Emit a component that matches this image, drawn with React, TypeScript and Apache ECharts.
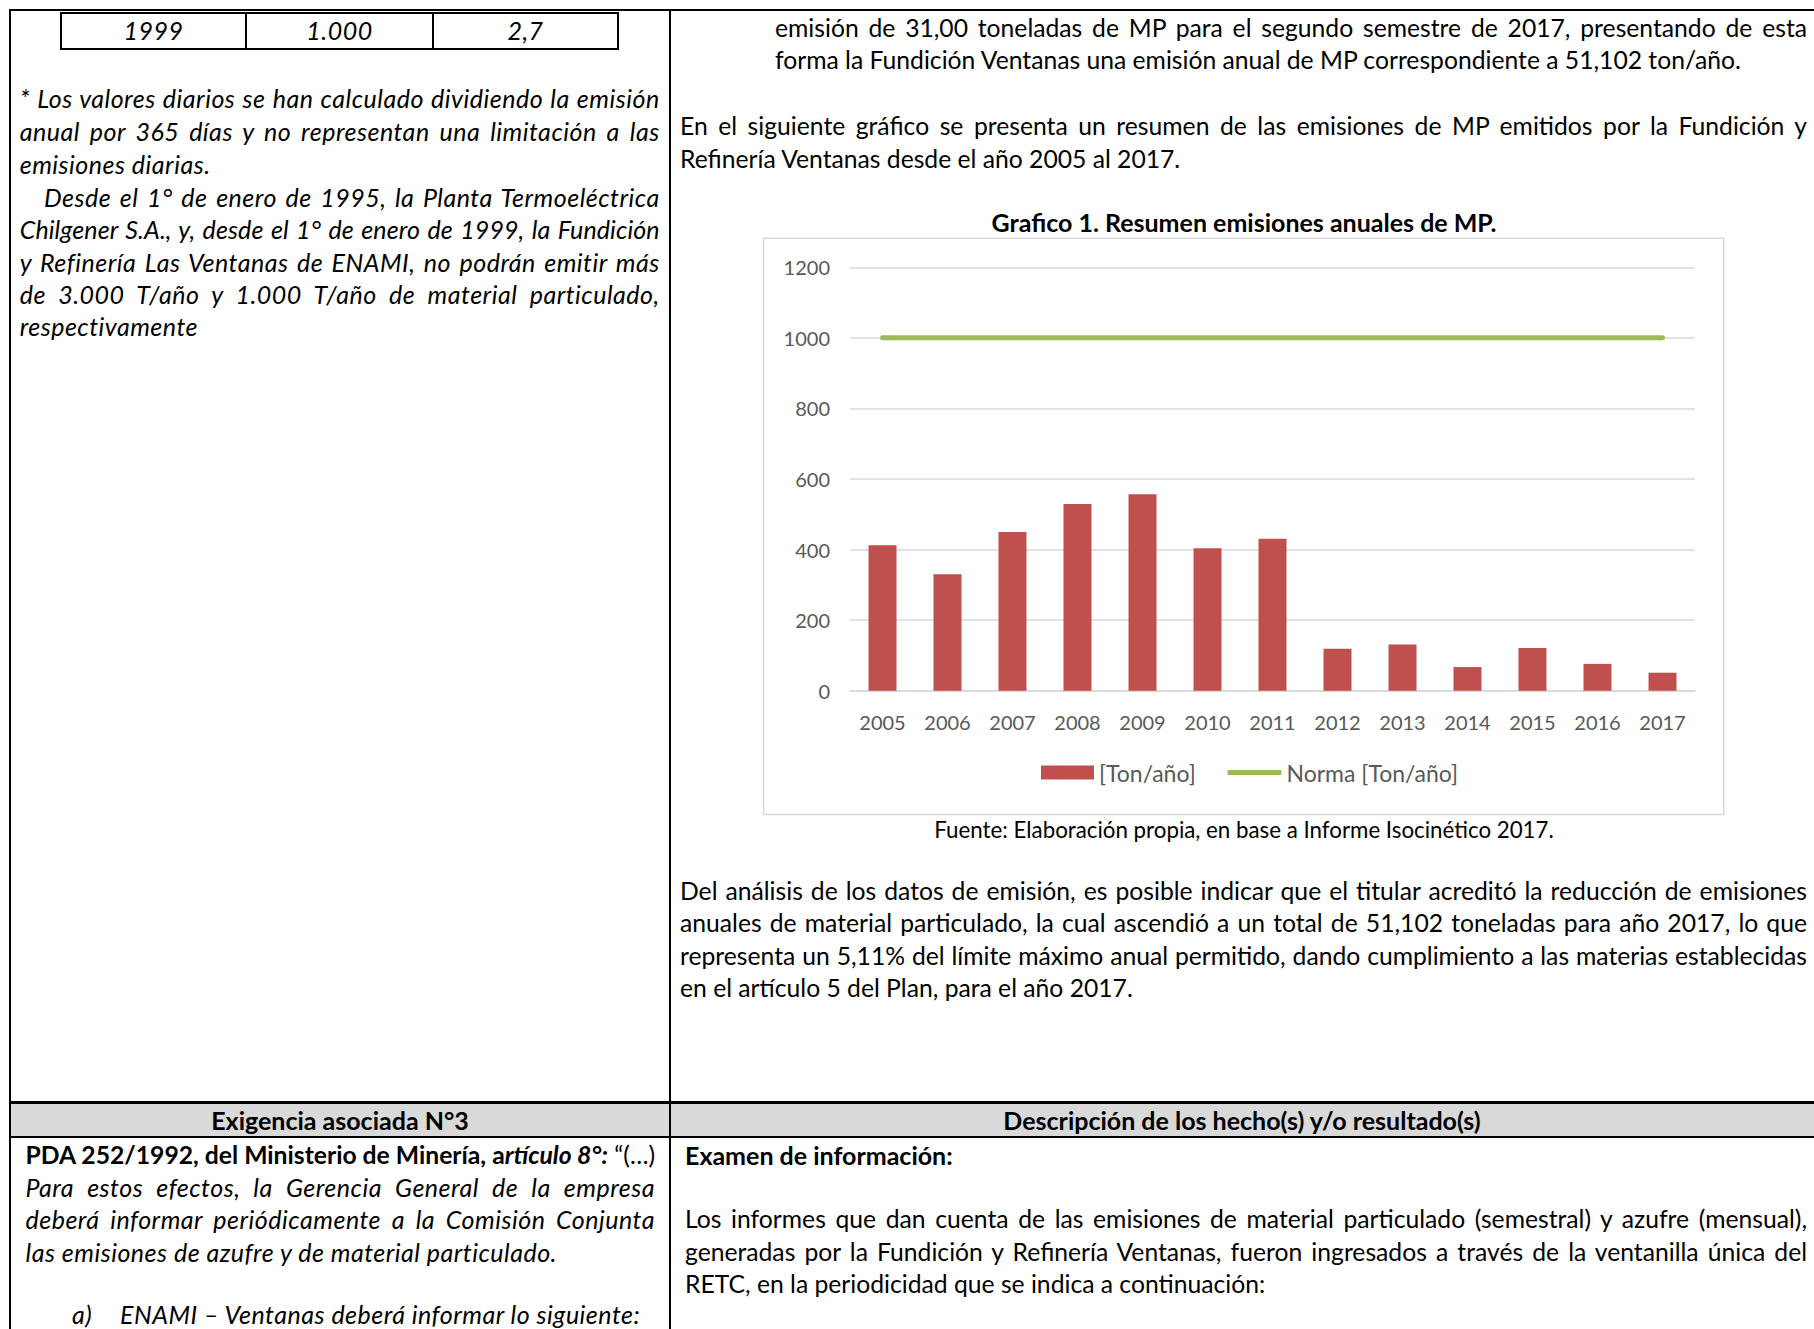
import React, { useEffect, useRef } from "react";
import * as echarts from "echarts";

// ---- chart data ----
const years = ["2005", "2006", "2007", "2008", "2009", "2010", "2011", "2012", "2013", "2014", "2015", "2016", "2017"];
const emissions = [412, 330, 450, 529, 557, 404, 431, 119, 131, 67, 121, 76, 51];
const normaValues = [1000, 1000, 1000, 1000, 1000, 1000, 1000, 1000, 1000, 1000, 1000, 1000, 1000];
const yMin = 0;
const yMax = 1200;
const yStep = 200;
const seriesNames = ["[Ton/año]", "Norma [Ton/año]"];
const chartTitle = "Grafico 1. Resumen emisiones anuales de MP.";
const chartSource = "Fuente: Elaboración propia, en base a Informe Isocinético 2017.";

const FONT = "Lato, 'Noto Sans', sans-serif";

type LineProps = {
  x: number;
  y: number;
  w?: number;
  justify?: boolean;
  italic?: boolean;
  bold?: boolean;
  center?: boolean;
  ls?: number;
  lh?: number;
  children: React.ReactNode;
};

function Line({ x, y, w, justify, italic, bold, center, ls, lh = 32, children }: LineProps) {
  const fontSize = italic ? 25 : bold ? 25 : 24.7;
  const style: React.CSSProperties = {
    position: "absolute",
    left: x,
    top: y - lh / 2,
    height: lh,
    lineHeight: lh + "px",
    fontSize,
    letterSpacing: ls !== undefined ? ls : italic ? 0.5 : 0,
    fontFamily: FONT,
    color: "#000",
    fontStyle: italic ? "italic" : "normal",
    fontWeight: bold ? 700 : 400,
    whiteSpace: "nowrap",
  };
  if (w !== undefined) style.width = w;
  if (justify) {
    style.textAlign = "justify";
    (style as any).textAlignLast = "justify";
  }
  if (center) style.textAlign = "center";
  return <div style={style}>{children}</div>;
}

function HLine({ x, y, w, t = 2 }: { x: number; y: number; w: number; t?: number }) {
  return <div style={{ position: "absolute", left: x, top: y - t / 2, width: w, height: t, background: "#000" }} />;
}
function VLine({ x, y, h, t = 2 }: { x: number; y: number; h: number; t?: number }) {
  return <div style={{ position: "absolute", left: x - t / 2, top: y, width: t, height: h, background: "#000" }} />;
}

function Chart() {
  const ref = useRef<HTMLDivElement>(null);
  useEffect(() => {
    if (!ref.current) return;
    const chart = echarts.init(ref.current, undefined, { renderer: "svg" });
    chart.setOption({
      animation: false,
      backgroundColor: "transparent",
      textStyle: { fontFamily: FONT },
      grid: { left: 175, right: 119, top: 77.3, bottom: 159.3, containLabel: false },
      xAxis: {
        type: "category",
        data: years,
        axisLine: { show: true, lineStyle: { color: "#D9D9D9", width: 1.5 } },
        axisTick: { show: false },
        axisLabel: { color: "#595959", fontSize: 20, margin: 21, fontFamily: FONT },
      },
      yAxis: {
        type: "value",
        min: yMin,
        max: yMax,
        interval: yStep,
        axisLine: { show: false },
        axisTick: { show: false },
        splitLine: { lineStyle: { color: "#D9D9D9", width: 1.5 } },
        axisLabel: {
          color: "#595959",
          fontSize: 20,
          margin: 20,
          fontFamily: FONT,
          formatter: (v: number) => String(v),
        },
      },
      legend: [
        {
          left: 366,
          top: 571,
          padding: 0,
          itemWidth: 53,
          itemHeight: 14,
          textStyle: { color: "#595959", fontSize: 23, fontFamily: FONT },
          data: [{ name: seriesNames[0], icon: "rect" }],
        },
        {
          left: 552.5,
          top: 571,
          padding: 0,
          itemWidth: 54,
          itemHeight: 5,
          textStyle: { color: "#595959", fontSize: 23, fontFamily: FONT },
          data: [{ name: seriesNames[1], icon: "roundRect" }],
        },
      ],
      series: [
        {
          name: seriesNames[0],
          type: "bar",
          data: emissions,
          barWidth: 28,
          itemStyle: { color: "#C0504D" },
        },
        {
          name: seriesNames[1],
          type: "line",
          data: normaValues,
          symbol: "none",
          lineStyle: { color: "#9BBB59", width: 5, cap: "round" },
          itemStyle: { color: "#9BBB59" },
        },
      ],
      graphic: [
        {
          type: "rect",
          shape: { x: 88.6, y: 48.3, width: 960.2, height: 576.2 },
          style: { fill: "none", stroke: "#D9D9D9", lineWidth: 1.5 },
          silent: true,
        },
        {
          type: "text",
          x: 569,
          y: 32,
          style: {
            text: chartTitle,
            fill: "#000",
            fontSize: 25,
            fontWeight: "bold",
            fontFamily: FONT,
            align: "center",
            verticalAlign: "middle",
          },
        },
        {
          type: "text",
          x: 569,
          y: 639.5,
          style: {
            text: chartSource,
            fill: "#000",
            fontSize: 22.3,
            fontFamily: FONT,
            align: "center",
            verticalAlign: "middle",
          },
        },
      ],
    });
    return () => chart.dispose();
  }, []);
  return <div ref={ref} style={{ position: "absolute", left: 675, top: 190, width: 1139, height: 660 }} />;
}

export default function App() {
  useEffect(() => {
    document.body.style.margin = "0";
    document.body.style.overflow = "hidden";
  }, []);
  const L1 = 19.7, LW = 640;
  const R1 = 680, RW = 1127;
  return (
    <div
      style={{
        position: "absolute",
        left: 0,
        top: 0,
        width: 1814,
        height: 1329,
        overflow: "hidden",
        background: "#fff",
        fontFamily: FONT,
      }}
    >
      {/* header gray band */}
      <div style={{ position: "absolute", left: 10, top: 1103, width: 1804, height: 33, background: "#D9D9D9" }} />

      {/* page borders */}
      <HLine x={10} y={10} w={1804} />
      <VLine x={10} y={9} h={1320} />
      <VLine x={670} y={9} h={1320} />
      <HLine x={10} y={1102.5} w={1804} t={2.5} />
      <HLine x={10} y={1136.5} w={1804} t={2} />

      {/* small table */}
      <HLine x={61} y={13} w={557} />
      <HLine x={61} y={49} w={557} />
      <VLine x={61} y={12} h={38} />
      <VLine x={246} y={12} h={38} />
      <VLine x={433} y={12} h={38} />
      <VLine x={618} y={12} h={38} />
      <Line x={61} y={30} w={185} italic center>1999</Line>
      <Line x={246} y={30} w={187} italic center>1.000</Line>
      <Line x={433} y={30} w={185} italic center>2,7</Line>

      {/* left column */}
      <Line x={L1} y={98.3} w={LW} italic justify>* Los valores diarios se han calculado dividiendo la emisión</Line>
      <Line x={L1} y={130.7} w={LW} italic justify>anual por 365 días y no representan una limitación a las</Line>
      <Line x={L1} y={164.3} italic>emisiones diarias.</Line>
      <Line x={44} y={196.7} w={LW - 24.3} italic justify>Desde el 1° de enero de 1995, la Planta Termoeléctrica</Line>
      <Line x={L1} y={229} w={LW} italic justify ls={0.1}>Chilgener S.A., y, desde el 1° de enero de 1999, la Fundición</Line>
      <Line x={L1} y={261.5} w={LW} italic justify>y Refinería Las Ventanas de ENAMI, no podrán emitir más</Line>
      <Line x={L1} y={293.9} w={LW} italic justify>de 3.000 T/año y 1.000 T/año de material particulado,</Line>
      <Line x={L1} y={326.2} italic>respectivamente</Line>

      {/* right column */}
      <Line x={775} y={27.8} w={1032} justify>emisión de 31,00 toneladas de MP para el segundo semestre de 2017, presentando de esta</Line>
      <Line x={775} y={60.2}>forma la Fundición Ventanas una emisión anual de MP correspondiente a 51,102 ton/año.</Line>
      <Line x={R1} y={126} w={RW} justify>En el siguiente gráfico se presenta un resumen de las emisiones de MP emitidos por la Fundición y</Line>
      <Line x={R1} y={158.5}>Refinería Ventanas desde el año 2005 al 2017.</Line>

      <Chart />

      <Line x={R1} y={891} w={RW} justify>Del análisis de los datos de emisión, es posible indicar que el titular acreditó la reducción de emisiones</Line>
      <Line x={R1} y={923} w={RW} justify>anuales de material particulado, la cual ascendió a un total de 51,102 toneladas para año 2017, lo que</Line>
      <Line x={R1} y={955.6} w={RW} justify>representa un 5,11% del límite máximo anual permitido, dando cumplimiento a las materias establecidas</Line>
      <Line x={R1} y={988}>en el artículo 5 del Plan, para el año 2017.</Line>

      {/* bottom header */}
      <Line x={10} y={1120} w={660} bold center>Exigencia asociada N°3</Line>
      <Line x={670} y={1120} w={1144} bold center>Descripción de los hecho(s) y/o resultado(s)</Line>

      {/* bottom left */}
      <Line x={25.5} y={1154.6} w={629.5} justify>
        <b>PDA 252/1992, del Ministerio de Minería, a</b>
        <b><i>rtículo 8°:</i></b> “(…)
      </Line>
      <Line x={25.5} y={1187} w={629.5} italic justify>Para estos efectos, la Gerencia General de la empresa</Line>
      <Line x={25.5} y={1219.4} w={629.5} italic justify>deberá informar periódicamente a la Comisión Conjunta</Line>
      <Line x={25.5} y={1251.8} italic>las emisiones de azufre y de material particulado.</Line>
      <Line x={72} y={1314} lh={26} italic>a)</Line>
      <Line x={120} y={1314} lh={26} italic>ENAMI – Ventanas deberá informar lo siguiente:</Line>

      {/* bottom right */}
      <Line x={685} y={1154.6} bold>Examen de información:</Line>
      <Line x={685} y={1219.4} w={1122} justify>Los informes que dan cuenta de las emisiones de material particulado (semestral) y azufre (mensual),</Line>
      <Line x={685} y={1251.8} w={1122} justify>generadas por la Fundición y Refinería Ventanas, fueron ingresados a través de la ventanilla única del</Line>
      <Line x={685} y={1284.2}>RETC, en la periodicidad que se indica a continuación:</Line>
    </div>
  );
}
